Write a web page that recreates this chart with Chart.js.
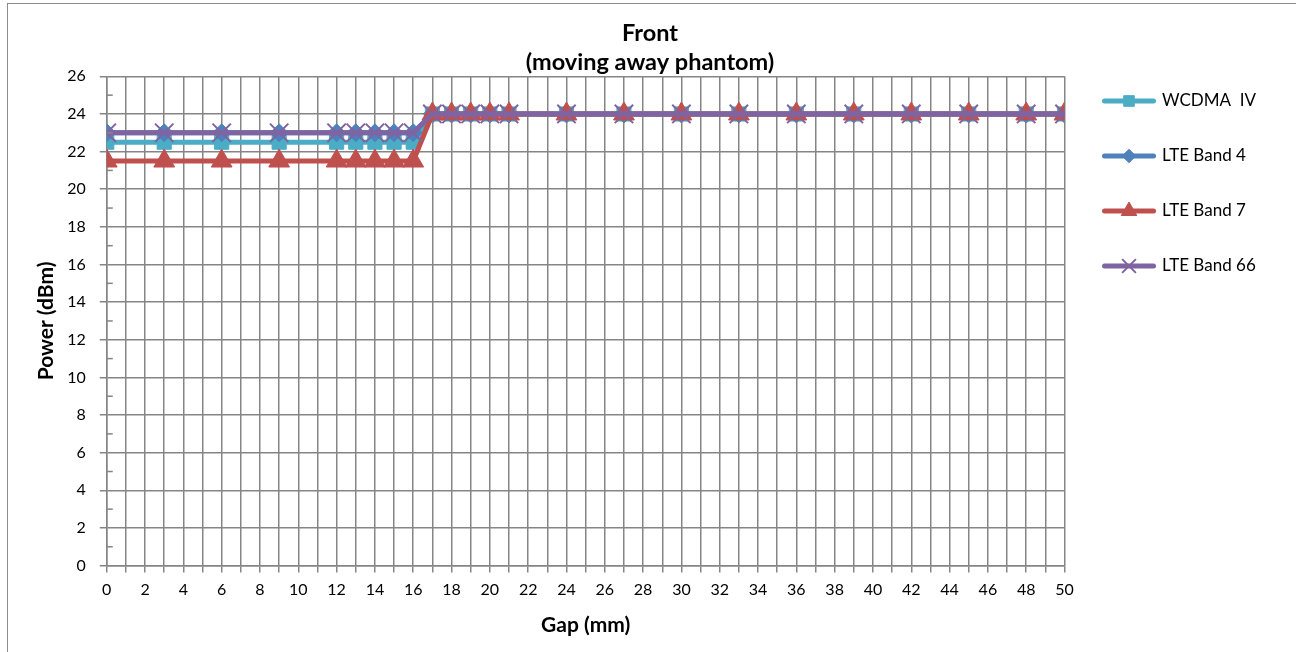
<!DOCTYPE html>
<html>
<head>
<meta charset="utf-8">
<script src="https://cdn.jsdelivr.net/npm/chart.js@4/dist/chart.umd.min.js"></script>
<style>
   html, body { margin: 0; padding: 0; background: #fff; overflow: hidden; }
   #frame { position: absolute; left: 7px; top: 3px; width: 1400px; height: 800px; border: 1.5px solid #8c8c8c; }
   #myChart { position: absolute; left: 0; top: 0; }
</style>
</head>
<body>
<div id="frame"></div>
<canvas id="myChart" width="1296" height="652"></canvas>
<script>
const gaps = [0, 3, 6, 9, 12, 13, 14, 15, 16, 17, 18, 19, 20, 21, 24, 27, 30, 33, 36, 39, 42, 45, 48, 50];

const wcdmaIV = [22.5, 22.5, 22.5, 22.5, 22.5, 22.5, 22.5, 22.5, 22.5, 24, 24, 24, 24, 24, 24, 24, 24, 24, 24, 24, 24, 24, 24, 24];
const lteBand4 = [23, 23, 23, 23, 23, 23, 23, 23, 23, 24, 24, 24, 24, 24, 24, 24, 24, 24, 24, 24, 24, 24, 24, 24];
const lteBand7 = [21.5, 21.5, 21.5, 21.5, 21.5, 21.5, 21.5, 21.5, 21.5, 24, 24, 24, 24, 24, 24, 24, 24, 24, 24, 24, 24, 24, 24, 24];
const lteBand66 = [23, 23, 23, 23, 23, 23, 23, 23, 23, 24, 24, 24, 24, 24, 24, 24, 24, 24, 24, 24, 24, 24, 24, 24];

const seriesNames = ['WCDMA  IV', 'LTE Band 4', 'LTE Band 7', 'LTE Band 66'];
const yTicks = [0, 2, 4, 6, 8, 10, 12, 14, 16, 18, 20, 22, 24, 26];

const FONT = 'Lato, "Open Sans", sans-serif';
const GRID = '#858585';

function toPoints(values) {
   return values.map((v, i) => ({ x: gaps[i], y: v }));
}

function series(label, values, color, style, radius, order) {
   return {
      label: label,
      data: toPoints(values),
      borderColor: color,
      backgroundColor: color,
      borderWidth: 5,
      pointStyle: style,
      pointRadius: radius,
      pointHoverRadius: radius,
      pointBackgroundColor: color,
      pointBorderColor: color,
      pointBorderWidth: style === 'crossRot' ? 2 : 1,
      tension: 0,
      fill: false,
      order: order
   };
}

// small inside ticks on odd values of the y axis, and line+marker legend keys
const extras = {
   id: 'extras',
   afterDraw(chart) {
      const ctx = chart.ctx;
      const y = chart.scales.y;
      ctx.save();
      ctx.strokeStyle = GRID;
      ctx.lineWidth = 1.5;
      for (let v = 1; v < 26; v += 2) {
         const py = y.getPixelForValue(v);
         ctx.beginPath();
         ctx.moveTo(y.right, py);
         ctx.lineTo(y.right + 6, py);
         ctx.stroke();
      }

      const legend = chart.legend;
      const boxW = legend.options.labels.boxWidth;
      legend.legendHitBoxes.forEach((box, i) => {
         const ds = chart.data.datasets[legend.legendItems[i].datasetIndex];
         const cy = box.top + box.height / 2;
         const x0 = box.left + 4;
         ctx.strokeStyle = ds.borderColor;
         ctx.fillStyle = ds.borderColor;
         ctx.lineWidth = 5;
         ctx.lineCap = 'round';
         ctx.beginPath();
         ctx.moveTo(x0 + 2, cy);
         ctx.lineTo(x0 + boxW - 4, cy);
         ctx.stroke();
         ctx.lineCap = 'butt';
         ctx.lineWidth = ds.pointBorderWidth;
         Chart.helpers.drawPoint(ctx, { pointStyle: ds.pointStyle, radius: ds.pointRadius * 0.75, borderWidth: ds.pointBorderWidth, rotation: 0 }, x0 + (boxW - 2) / 2, cy);
      });
      ctx.restore();
   }
};

new Chart(document.getElementById('myChart').getContext('2d'), {
   type: 'line',
   data: {
      datasets: [
         series(seriesNames[0], wcdmaIV, '#4bacc6', 'rect', 10, 4),
         series(seriesNames[1], lteBand4, '#4f81bd', 'rectRot', 9, 3),
         series(seriesNames[2], lteBand7, '#c0504d', 'triangle', 12, 2),
         series(seriesNames[3], lteBand66, '#8064a2', 'crossRot', 13, 1)
      ]
   },
   options: {
      responsive: false,
      animation: false,
      layout: { padding: { left: 34, right: 30, top: 8, bottom: 14 } },
      plugins: {
         tooltip: { enabled: false },
         title: {
            display: true,
            text: ['Front', '(moving away phantom)'],
            color: '#000',
            font: { family: FONT, size: 23.5, weight: 'bold', lineHeight: 1.22 },
            padding: { top: 11, bottom: 0 }
         },
         legend: {
            position: 'right',
            align: 'start',
            title: { display: true, text: '', color: '#000', font: { size: 10, lineHeight: 1 }, padding: { top: 48, bottom: 0 } },
            labels: {
               boxWidth: 55,
               boxHeight: 40,
               padding: 15,
               color: '#000',
               font: { family: FONT, size: 17 },
               sort: (a, b) => a.datasetIndex - b.datasetIndex,
               generateLabels(chart) {
                  return chart.data.datasets.map((ds, i) => ({
                     text: ds.label,
                     datasetIndex: i,
                     fontColor: '#000',
                     fillStyle: 'rgba(0,0,0,0)',
                     strokeStyle: 'rgba(0,0,0,0)',
                     lineWidth: 0,
                     hidden: false
                  }));
               }
            }
         }
      },
      scales: {
         x: {
            type: 'linear',
            min: 0,
            max: 50,
            ticks: {
               stepSize: 1,
               autoSkip: false,
               maxRotation: 0,
               color: '#000',
               padding: 8,
               font: { family: FONT, size: 16 },
               callback: v => (v % 2 === 0 ? v : '')
            },
            grid: { color: GRID, lineWidth: 1.5, tickLength: 7 },
            border: { color: GRID, width: 1.5 },
            title: {
               display: true,
               text: 'Gap (mm)',
               color: '#000',
               font: { family: FONT, size: 21, weight: 'bold' },
               padding: { top: 5, bottom: 0 }
            }
         },
         y: {
            min: 0,
            max: 26,
            afterBuildTicks: scale => { scale.ticks = yTicks.map(v => ({ value: v })); },
            afterFit: scale => { scale.width -= 14; },
            ticks: {
               color: '#000',
               padding: 14,
               font: { family: FONT, size: 16 }
            },
            grid: { color: GRID, lineWidth: 1.5, tickLength: 7 },
            border: { color: GRID, width: 1.5 },
            title: {
               display: true,
               text: 'Power (dBm)',
               color: '#000',
               font: { family: FONT, size: 21, weight: 'bold' },
               padding: { top: 0, bottom: 8 }
            }
         },
         gapRight: {
            position: 'right',
            display: true,
            afterFit: scale => { scale.width = 19; },
            grid: { display: false, drawTicks: false },
            ticks: { display: false },
            border: { display: false }
         }
      }
   },
   plugins: [extras]
});
</script>
</body>
</html>
